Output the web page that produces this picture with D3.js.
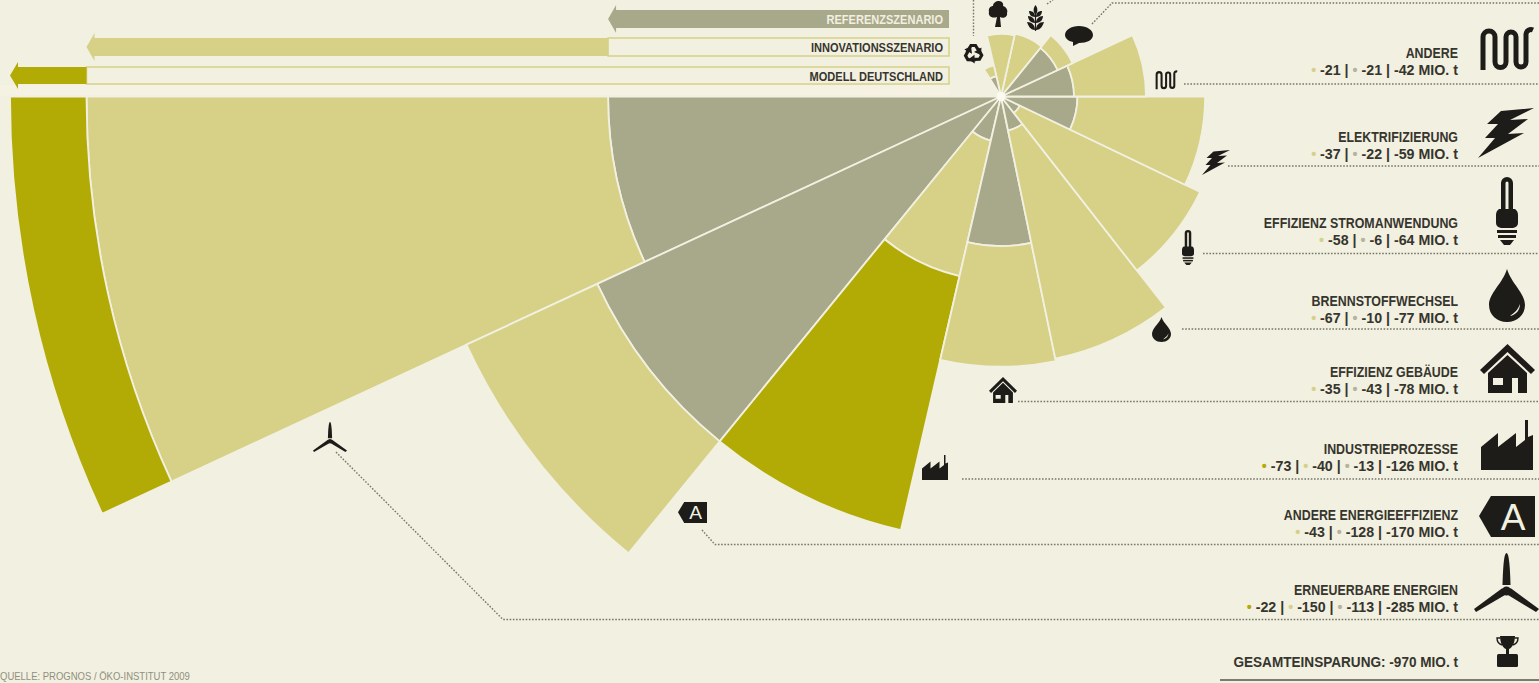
<!DOCTYPE html>
<link rel="shortcut icon" href="#">
<script src="https://d3js.org/d3.v7.min.js"></script>
<style>
  html, body { margin: 0; padding: 0; background: #f2f0e0; overflow: hidden; }
  svg { display: block; }
  text { font-family: "Liberation Sans", sans-serif; }
</style>
<body>
  <div id="container"></div>
</body>
<script>
    // sectors clockwise on the page, starting at the 9 o'clock line
    var sectors = ["Erneuerbare Energien", "Andere Energieeffizienz", "Industrieprozesse", "Effizienz Gebäude",
      "Brennstoffwechsel", "Effizienz Stromanwendung", "Elektrifizierung", "Andere",
      "Sprechblase", "Getreide", "Baum", "Recycling"];

    // ring thicknesses as drawn in the picture (Mio. t)
    var refValues   = [113, 128, 13, 43, 10, 6, 22, 21, 18, 0, 0, 6];
    var innoValues  = [150, 41.5, 40, 34.7, 67, 57.5, 36.7, 20.7, 4.7, 18.5, 18, 3.2];
    var modelValues = [22, 0, 75, 0, 0, 0, 0, 0, 0, 0, 0, 0];
    // sector borders in degrees
    var sectorEdges = [0, 24.9, 50.8, 77, 101.7, 128, 154.4, 180, 205, 231, 257.5, 283, 302];

    // printed rows on the right
    var rowTitles = ["ANDERE", "ELEKTRIFIZIERUNG", "EFFIZIENZ STROMANWENDUNG", "BRENNSTOFFWECHSEL", "EFFIZIENZ GEBÄUDE",
      "INDUSTRIEPROZESSE", "ANDERE ENERGIEEFFIZIENZ", "ERNEUERBARE ENERGIEN"];
    var rowModel = [null, null, null, null, null, -73, null, -22];
    var rowInno  = [-21, -37, -58, -67, -35, -40, -43, -150];
    var rowRef   = [-21, -22, -6, -10, -43, -13, -128, -113];
    var rowTotal = [-42, -59, -64, -77, -78, -126, -170, -285];
    var rowTitleY = [58, 141.5, 227.5, 305.5, 377, 453.5, 519.5, 594.5];
    var rowValueY = [75, 158.5, 244.5, 322.5, 394, 470.5, 536.5, 611.5];

    var scenarioNames = ["REFERENZSZENARIO", "INNOVATIONSSZENARIO", "MODELL DEUTSCHLAND"];
    var scenarioTotals = [113, 263, 285];

    var colors = {bg: "#f2f0e0", ref: "#a8a88b", inno: "#d6d187", model: "#b3ab05", ink: "#1d1c18", text: "#36352e"};

    var width = 1539, height = 683, cx = 1001, cy = 96.5;

    var svg = d3.select("#container")
      .append("svg")
      .attr("width", width)
      .attr("height", height);

    svg.append("rect").attr("width", width).attr("height", height).attr("fill", colors.bg);
    // slightly lighter strip above the chart
    svg.append("rect").attr("x", 0).attr("y", 85).attr("width", 950).attr("height", 11).attr("fill", "#f5f1e3");

    // radius is linear in the value, angle runs from west over south
    var r = d3.scaleLinear().domain([0, 285]).range([0, 991]);
    var angle = d3.scaleLinear().domain([0, 360]).range([-Math.PI / 2, -Math.PI / 2 - 2 * Math.PI]);

    var arc = d3.arc();
    var chart = svg.append("g").attr("transform", "translate(" + cx + "," + cy + ")");

    sectors.forEach(function(name, i) {
      var rings = [
        {from: 0, to: refValues[i], color: colors.ref},
        {from: refValues[i], to: refValues[i] + innoValues[i], color: colors.inno},
        {from: refValues[i] + innoValues[i], to: refValues[i] + innoValues[i] + modelValues[i], color: colors.model}
      ];
      chart.append("g").selectAll("path")
        .data(rings.filter(function(d) { return d.to > d.from; }))
        .enter()
        .append("path")
        .attr("d", function(d) {
          return arc({innerRadius: r(d.from), outerRadius: r(d.to), startAngle: angle(sectorEdges[i]), endAngle: angle(sectorEdges[i + 1])});
        })
        .attr("fill", function(d) { return d.color; })
        .attr("stroke", colors.bg)
        .attr("stroke-width", 1.8)
        .attr("stroke-linejoin", "round");
    });
    chart.append("circle").attr("r", 4.5).attr("fill", "#fbfaee");

    // scenario arrows, tips sit on the same radius scale
    var barY = [10, 38, 67], barH = [18, 18, 17];
    var barFill = [colors.ref, colors.inno, colors.model];
    var barEnd = [949, r(113), r(263)];   // first bar filled to the right end, the others up to previous scenario

    scenarioTotals.forEach(function(total, i) {
      var tip = cx - r(total);
      var right = i == 0 ? barEnd[0] : cx - barEnd[i];
      if (i > 0) {
        svg.append("rect")
          .attr("x", right).attr("y", barY[i])
          .attr("width", 949 - right).attr("height", barH[i])
          .attr("fill", "none").attr("stroke", colors.inno).attr("stroke-width", 1.5);
      }
      var p = d3.path();
      p.moveTo(tip, barY[i] + barH[i] / 2);
      p.lineTo(tip + 8, barY[i] - 5);
      p.lineTo(tip + 8, barY[i]);
      p.lineTo(right, barY[i]);
      p.lineTo(right, barY[i] + barH[i]);
      p.lineTo(tip + 8, barY[i] + barH[i]);
      p.lineTo(tip + 8, barY[i] + barH[i] + 5);
      p.closePath();
      svg.append("path").attr("d", p.toString()).attr("fill", barFill[i]);
      svg.append("text")
        .attr("transform", "translate(943," + (barY[i] + 14) + ") scale(0.85,1)")
        .attr("text-anchor", "end")
        .attr("font-size", 13).attr("font-weight", "bold")
        .attr("fill", i == 0 ? "#f2f0e0" : colors.text)
        .text(scenarioNames[i]);
    });

    // dotted leaders
    var leaders = [
      [[1184, 84], [1539, 84]],
      [[1228, 166], [1539, 166]],
      [[1203, 253.5], [1539, 253.5]],
      [[1182, 329], [1539, 329]],
      [[1018, 401.5], [1539, 401.5]],
      [[962, 479], [1539, 479]],
      [[702, 530], [715, 544.5], [1539, 544.5]],
      [[336, 452], [503, 619.5], [1539, 619.5]],
      [[973.5, 0], [973.5, 36]],
      [[1047, 4], [1053, 0]],
      [[1092, 24], [1112, 3], [1539, 3]]
    ];
    var line = d3.line();
    svg.append("g").selectAll("path")
      .data(leaders)
      .enter()
      .append("path")
      .attr("d", line)
      .attr("fill", "none")
      .attr("stroke", "#77776a")
      .attr("stroke-width", 1.4)
      .attr("stroke-dasharray", "1.6 1.6");

    // row texts, the condensed look comes from a horizontal squeeze
    function addValue(t, dotColor, v, sep) {
      if (v === null) return;
      t.append("tspan").attr("fill", dotColor).text("\u2022");
      t.append("tspan").text(" " + v + sep);
    }
    var rows = svg.append("g").attr("fill", colors.text);
    rowTitles.forEach(function(title, i) {
      rows.append("text")
        .attr("transform", "translate(1458," + rowTitleY[i] + ") scale(0.827,1)")
        .attr("text-anchor", "end")
        .attr("font-size", 15).attr("font-weight", "bold")
        .text(title);
      var t = rows.append("text")
        .attr("transform", "translate(1458," + rowValueY[i] + ") scale(0.95,1)")
        .attr("text-anchor", "end")
        .attr("font-size", 15).attr("font-weight", "bold");
      addValue(t, colors.model, rowModel[i], " | ");
      addValue(t, colors.inno, rowInno[i], " | ");
      addValue(t, "#b4b49e", rowRef[i], " | ");
      t.append("tspan").text(rowTotal[i] + " MIO. t");
    });
    rows.append("text")
      .attr("transform", "translate(1458,667) scale(0.877,1)")
      .attr("text-anchor", "end")
      .attr("font-size", 15.5).attr("font-weight", "bold")
      .text("GESAMTEINSPARUNG: -970 MIO. t");

    svg.append("line")
      .attr("x1", 1220).attr("x2", width).attr("y1", 680).attr("y2", 680)
      .attr("stroke", "#55554a").attr("stroke-width", 1.5);

    svg.append("text")
      .attr("transform", "translate(0,680) scale(0.865,1)")
      .attr("font-size", 11).attr("fill", "#8f8f80")
      .text("QUELLE: PROGNOS / ÖKO-INSTITUT 2009");

    // icons, drawn in their own little boxes and scaled to the spot
    var icons = {
      heater: {w: 56, h: 50, svg: '<path d="M4 46V13A6 6 0 0 1 16 13V38A5.5 5.5 0 0 0 27 38V13A5 5 0 0 1 37 13V38A5 5 0 0 0 47 38V10A5 5 0 0 1 54 6" fill="none" stroke="currentColor" stroke-width="5"/>'},
      bolt: {w: 56, h: 50, svg: '<path d="M56 0L23 3L9 16L20 16L7 30L17 30L0 50L46 25L30 26L50 11L32 12Z"/>'},
      bulb: {w: 22, h: 68, svg: '<path fill-rule="evenodd" d="M5 32V6A6 6 0 0 1 17 6V32H19Q22 34 22 38V46Q22 50 17 51H5Q0 50 0 46V38Q0 34 3 32ZM9.5 6V32H12.5V6A1.5 1.5 0 0 0 9.5 6Z"/><rect x="1" y="53" width="20" height="3"/><rect x="2" y="58" width="18" height="3"/><path d="M4 63H18L14 68H8Z"/>'},
      drop: {w: 36, h: 53, svg: '<path fill-rule="evenodd" d="M18 0C14 14 0 24 0 36C0 46 8 53 18 53C28 53 36 46 36 36C36 24 22 14 18 0ZM31 35C31 41 27 46 21 47C25 44 29 41 31 35Z"/>'},
      house: {w: 55, h: 49, svg: '<path d="M0 26L27.5 0L55 26L51 30L27.5 8L4 30Z"/><path fill-rule="evenodd" d="M8 49V29L27.5 11L47 29V49H38V34H32V49ZM13 34V41H23V34Z"/>'},
      factory: {w: 52, h: 50, svg: '<path d="M0 50V27L17 13V27L35 13V27L44 20V0H47V17L52 15V50Z"/>'},
      tag: {w: 56, h: 41, svg: '<path d="M0 20L12 0H56V41H12Z"/><text x="34" y="34" font-size="37" text-anchor="middle" fill="#f2f0e0">A</text>'},
      turbine: {w: 65, h: 59, svg: '<path d="M32.5 0C35 0 36 14 36.5 32L28.5 32C29 14 30 0 32.5 0Z"/><path d="M28.5 35L31 42L2 59L0 56Z"/><path d="M36.5 35L34 42L62 59L65 56Z"/><circle cx="32.5" cy="38" r="4.5"/>'},
      trophy: {w: 21, h: 31, svg: '<path d="M3 0H18C18 7 15 12 12 13V18H9V13C6 12 3 7 3 0Z"/><path d="M3 2H0C0 6 2 8 5 9M18 2H21C21 6 19 8 16 9" fill="none" stroke="currentColor" stroke-width="1.4"/><rect y="18" width="21" height="13" rx="1.5"/>'},
      tree: {w: 20, h: 26, svg: '<path d="M7 26L9 16C3 18 0 14 1 11C0 7 3 5 5 5C5 2 8 0 11 0C14 0 16 3 15 5C19 6 20 10 19 12C20 16 15 18 12 16L13 26Z"/>'},
      grain: {w: 17, h: 26, svg: '<path d="M8.5 26V3" stroke="currentColor" stroke-width="1.2"/><path d="M8.5 0C11 3 11 7 8.5 10C6 7 6 3 8.5 0Z"/><path d="M8 12C4 12 2 9 2 6C6 6 8 8 8 12ZM9 12C13 12 15 9 15 6C11 6 9 8 9 12ZM8 18C3 18 1 14 1 11C5 11 8 14 8 18ZM9 18C14 18 16 14 16 11C12 11 9 14 9 18ZM8 25C3 25 1 20 0 17C5 17 8 20 8 25ZM9 25C14 25 16 20 17 17C12 17 9 20 9 25Z"/>'},
      speech: {w: 28, h: 20, svg: '<path d="M14 0C22 0 28 4 28 9C28 14 22 17 14 17L8 20L8 16C3 15 0 12 0 9C0 4 6 0 14 0Z"/>'},
      recycle: {w: 21, h: 20, svg: ["0", "120", "240"].map(function(a) {
        return '<g transform="translate(10.5 10.5) rotate(' + a + ')"><path d="M-6.5 -1.5L-2.5 -8H2L4.5 -4" fill="none" stroke="currentColor" stroke-width="3.2"/><path d="M8 -6L7.5 1.5L0.5 -1.5Z"/></g>';
      }).join("")}
    };

    // name, left, top, right, bottom
    var iconSpots = [
      ["heater", 1479, 24, 1535, 74], ["heater", 1155, 69, 1178, 91],
      ["bolt", 1478, 108, 1534, 158], ["bolt", 1202, 150, 1230, 175],
      ["bulb", 1496, 177, 1518, 245], ["bulb", 1182, 230, 1194, 265],
      ["drop", 1489, 269, 1525, 322], ["drop", 1152, 317, 1171, 342],
      ["house", 1480, 344, 1535, 393], ["house", 989, 377, 1017, 403],
      ["factory", 1481, 420, 1533, 470], ["factory", 922, 455, 948, 480],
      ["tag", 1479, 496, 1535, 537], ["tag", 678, 502, 707, 523],
      ["turbine", 1474, 553, 1539, 612], ["turbine", 313, 422, 347, 452],
      ["trophy", 1497, 636, 1518, 667],
      ["recycle", 963, 43, 984, 63], ["tree", 988, 1, 1008, 27],
      ["grain", 1027, 5, 1044, 31], ["speech", 1065, 26, 1093, 46]
    ];

    svg.append("g").selectAll("g")
      .data(iconSpots)
      .enter()
      .append("g")
      .attr("fill", colors.ink)
      .style("color", colors.ink)
      .attr("transform", function(d) {
        var ic = icons[d[0]];
        return "translate(" + d[1] + "," + d[2] + ") scale(" + (d[3] - d[1]) / ic.w + "," + (d[4] - d[2]) / ic.h + ")";
      })
      .html(function(d) { return icons[d[0]].svg; });

</script>
